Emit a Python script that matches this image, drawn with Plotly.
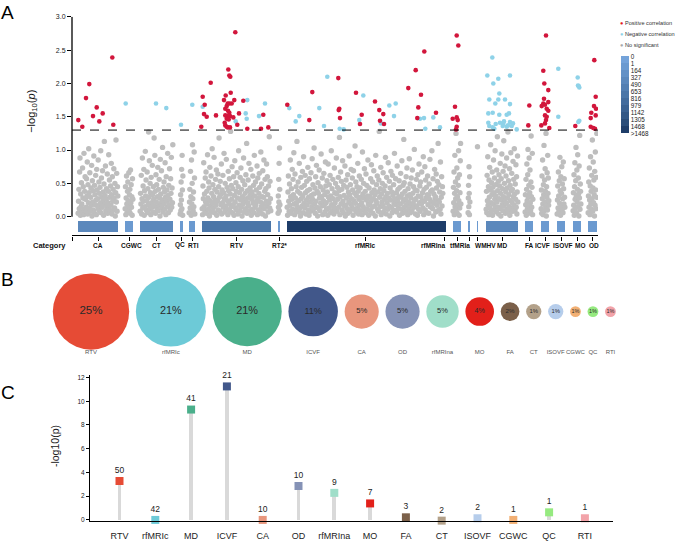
import math
import plotly.graph_objects as go

FONT = "Liberation Sans"
W, H = 685, 542

# ================= Panel A data (Manhattan plot) =================
catA_names = ["CA", "CGWC", "CT", "QC", "RTI", "RTV", "RT2*", "rfMRIc", "rfMRIna",
              "tfMRIa", "", "WMHV", "MD", "FA", "ICVF", "ISOVF", "MO", "OD"]
catA_start = [78, 125, 140, 180, 189, 202, 278, 287, 443, 453, 468, 477, 486, 525, 541, 557, 573, 588]
catA_end = [118, 133, 173, 183, 195, 271, 280, 443, 446, 461, 470, 478, 518, 533, 549, 565, 581, 597]
catA_density_level = [3, 1, 3, 1, 1, 5, 1, 10, 10, 1, 1, 1, 3, 1, 1, 1, 1, 1]
density_labels = ["0", "1", "164", "327", "490", "653", "816", "979", "1142", "1305", "1468", ">1468"]
threshold = 1.3

# non-significant -log10(p) values (hundredths), per category
gray_CA = """05 23 41 12 67 88 02 34 15 51 19 07 73 28 45 03 95 11 38 60
26 09 14 57 31 82 04 48 21 102 36 13 66 08 29 43 17 77 01 54
22 39 10 91 06 47 33 18 62 25 03 71 40 16 27 85 11 52 35 08
44 20 99 06 58 30 14 69 24 37 02 49 113 19 32 76 09 26 42 15
64 05 21 38 93 12 55 29 07 46 17 80 33 04 60 23 41 10 72 28
13 50 01 36 115 22 65 08 45 31"""
gray_CGWC = "12 45 03 28 61 19 07 38 52 24 15 66 09 33 41 05 70 21 48 14 30 02 57 26"
gray_CT = """08 35 19 62 04 27 88 13 46 23 71 02 39 15 98 31 55 10 24 67
06 42 18 127 29 84 11 50 36 03 59 21 14 77 33 07 45 26 118 16
92 38 05 63 22 48 12 30 74 09 41 17 56 28 01 86 34 20 69 13
25 104 07 44 19 52 37 11 81 29 03 60 23 40 15 95 32 06 47 18
72 26 10 57 35 89 14 43 21 108"""
gray_QC = "04 18 33 09 52 25 71 12 92 40 02 61"
gray_RTI = "06 22 41 13 68 30 02 85 19 50 108 27 09 37 15 97 58 04"
gray_RTV = """12 03 46 27 81 15 34 09 58 22 67 05 38 19 93 28 11 52 43 01
74 24 16 61 07 35 102 20 48 13 30 89 06 41 25 56 17 70 02 37
23 64 10 45 118 29 08 53 33 18 79 04 40 21 62 14 36 95 27 07
50 16 31 86 11 44 24 03 68 39 20 57 09 34 128 15 47 26 75 06
42 18 60 02 32 84 22 13 51 38 10 66 28 04 45 99 17 36 08 59
25 73 14 41 01 30 54 19 88 23 07 48 35 12 63 27 110 05 39 21
55 16 80 29 09 43 33 71 02 26 37 11 61 20 47 06 92 31 14 52
18 40 24 76 03 58 28 10 35 65 44 08 22 97 15 49 30 04 69 19
29 85 12 38 56 01 42 23 79 16 60 33 07 46 21 120 13 53 27 09"""
gray_RT2 = "05 31 14 56 22 80 09 103 41 18"
gray_rfMRIc = """14 02 37 61 23 08 49 17 85 30 05 42 26 71 11 56 33 96 19 03
64 28 09 45 21 113 15 38 52 07 24 80 12 35 01 59 27 44 16 68
31 06 90 20 47 13 62 36 04 25 53 18 39 74 10 29 02 57 41 22
08 66 32 15 87 26 48 11 34 103 19 43 05 60 23 77 14 38 01 51
35 12 70 28 09 45 20 94 30 16 58 03 40 24 65 17 33 07 82 46
21 11 54 37 02 79 29 13 48 25 62 06 31 99 18 42 09 56 27 15
04 73 36 21 50 12 88 34 08 44 26 59 14 39 119 03 30 67 19 53
41 10 84 23 06 47 32 16 76 01 17 55 28 44 12 63 05 37 22 91
33 08 48 19 71 27 14 58 40 02 69 24 11 35 106 20 52 07 31 45
13 80 38 04 26 61 17 43 09 29 56 21 03 97 34 15 50 28 72 10
38 06 64 25 47 12 31 85 19 02 43 18 30 09 57 23 78 36 14 52
05 27 69 40 16 33 01 92 24 48 20 61 11 37 08 55 128 29 15 42
74 03 34 22 50 17 66 07 39 26 13 46 89 30 04 59 21 35 11 81
28 16 53 01 43 25 68 14 37 06 62 32 10 48 20 95 27 09 57 18
36 07 76 24 41 13 30 54 02 44 19 65 29 11 84 34 05 47 23 116
51 15 38 26 08 60 18 73 31 03 42 22 12 87 33 49 06 28 58 17
09 70 35 20 45 14 101 25 40 04 27 56 16 39 02 63 31 11 79 21
46 08 52 30 19 67 24 36 13 90 03 41 23 75 10 55 28 44 06 33
61 18 32 05 49 26 86 15 38 22 14 99 40 12 57 01 34 20 71 27
30 07 64 43 17 53 09 110 24 48 22 37 11 82 04 29 60 16 45 35"""
gray_rfMRIna = ""
gray_tfMRIa = "08 44 21 67 03 35 92 15 52 27 125 11 39 73 05 30 58 18 47 99 24 02 63 13 36 84 110 19"
gray_unnamed = "06 28 47 15 75 35 03 60 22"
gray_WMHV = "105"
gray_MD = """11 38 06 62 24 90 17 45 03 55 29 74 13 40 108 21 08 51 33 67
02 44 19 85 36 10 58 26 99 15 48 31 07 70 22 120 39 14 53 04
63 27 46 12 80 35 01 57 25 94 18 42 09 68 30 114 16 50 23 76
05 37 61 20 88 11 43 28 127 07 54 33 15 72 02 47 24 96 39 12
65 21 41 08 83 30 56 17 102 34 09 49 26 78 14 60 04 37 91 22"""
gray_FA = "07 33 18 56 02 41 79 24 12 63 101 29 05 47 88 15 36 70 21 09 52 121 30 14 44 95 03 26"
gray_ICVF = "12 40 05 61 27 85 19 03 48 33 107 09 55 22 72 38 15 125 01 45 29 66 10 92 35 58 17 24"
gray_ISOVF = "04 25 46 13 67 31 08 54 20 89 39 02 60 16 35 75 11 49 27 06 82 42 19 57 29 14"
gray_MO = "09 36 17 63 02 45 81 26 13 54 104 31 06 70 22 41 93 15 58 34 01 76 28 122 11 49 38 19"
gray_OD = "06 31 52 14 73 25 03 46 90 19 38 11 62 27 115 08 43 82 21 55 33 01 68 17 97 40 12 59 29 125"

gray_by_cat = [gray_CA, gray_CGWC, gray_CT, gray_QC, gray_RTI, gray_RTV, gray_RT2, gray_rfMRIc,
               gray_rfMRIna, gray_tfMRIa, gray_unnamed, gray_WMHV, gray_MD, gray_FA, gray_ICVF,
               gray_ISOVF, gray_MO, gray_OD]

# significant associations: position and -log10(p)
pos_x = [78.3, 82.3, 86, 89.3, 93, 96.7, 99.3, 102.7, 112.3, 113.3,
         201.3, 202.7, 204, 204.7, 206.7, 210.7, 216, 224, 225.7, 228.3, 229.3, 230.3, 230.7, 235.3,
         225.3, 226.7, 227.7, 229.3, 231.7, 228, 229.3, 225.3, 227, 230, 226.7, 228.7, 225.3, 226.7,
         227.7, 230, 233.3, 234.3, 237.3, 239, 243.3, 247.3, 261, 263.3, 268.3, 224.7,
         287.3, 309.3, 312.3, 338.3, 339.3, 338.7, 340, 356, 360, 361.7, 375, 379.3, 380, 383.3, 384,
         408.3, 415.7, 417.3, 418.3, 421, 424.3, 436,
         456.7, 458.3, 455, 452.7, 456.7, 457.7, 456.7, 456,
         529.3, 528.3,
         546, 543.3, 544.3, 548.3, 544, 548.3, 543.3, 545, 541.7, 546.7, 548.3, 545, 546.7, 546, 541.3,
         549.3, 545,
         575.3,
         594.3, 595.7, 594, 596, 591.3, 595.7, 590.7, 590.7, 593.3, 595]
pos_y = [1.45, 1.35, 1.78, 1.99, 1.51, 1.64, 1.43, 1.55, 2.39, 1.38,
         1.35, 1.80, 1.54, 1.68, 1.50, 2.01, 1.52, 1.75, 1.82, 2.21, 2.12, 2.10, 1.86, 2.77,
         1.62, 1.66, 1.70, 1.70, 1.70, 1.59, 1.56, 1.52, 1.51, 1.51, 1.47, 1.46, 1.37, 1.35,
         1.34, 1.34, 1.49, 1.75, 1.38, 1.55, 1.74, 1.32, 1.32, 1.53, 1.34, 1.41,
         1.68, 1.45, 1.87, 2.08, 1.62, 1.60, 1.48, 1.86, 1.39, 1.53, 1.73, 1.60, 1.44, 1.54, 1.39,
         1.93, 2.20, 1.48, 1.64, 1.83, 2.48, 1.56,
         2.72, 2.57, 1.65, 1.47, 1.49, 1.45, 1.35, 1.31,
         1.67, 1.37,
         2.72, 2.19, 2.00, 1.90, 1.77, 1.72, 1.70, 1.68, 1.66, 1.62, 1.59, 1.52, 1.50, 1.45, 1.37,
         1.33, 1.40,
         1.36,
         2.35, 1.80, 1.66, 1.62, 1.56, 1.52, 1.48, 1.35, 1.33, 1.32]
neg_x = [125.7, 156, 166.3, 181, 192.3,
         202.7, 235.7, 245.7, 246.7, 247.3, 259, 265,
         289.3, 295.7, 299.3, 319.3, 324, 327.3, 339.7, 343.7, 359.3, 363.3, 381, 389.3, 394, 395.7,
         420, 424, 425.3, 433.3, 440,
         492.3, 487.3, 493.3, 498.3, 510, 489.3, 499.3, 498.3, 505, 510, 495.3, 492.7, 499.3, 488.3,
         506.7, 509, 488.3, 495.7, 503.3, 510, 502.7, 506.7, 511.7, 516.7, 492.7, 494.3, 489.3, 504,
         500, 513, 508,
         558.3, 558.3,
         577.7, 578.7, 579.3, 578, 579.3, 578.3]
neg_y = [1.70, 1.70, 1.63, 1.38, 1.68,
         1.65, 1.43, 1.55, 1.47, 1.75, 1.51, 1.70,
         1.63, 1.43, 1.51, 1.63, 1.36, 2.10, 1.32, 1.31, 1.45, 1.82, 1.40, 1.67, 1.51, 1.70,
         1.47, 1.48, 1.32, 1.49, 1.34,
         2.39, 2.12, 2.00, 2.07, 2.12, 1.76, 1.85, 1.76, 1.76, 1.69, 1.70, 1.56, 1.53, 1.55,
         1.53, 1.55, 1.41, 1.39, 1.39, 1.42, 1.36, 1.35, 1.36, 1.31, 1.34, 1.32, 1.36, 1.43,
         1.41, 1.40, 1.37,
         2.22, 1.50,
         2.09, 1.96, 1.94, 1.97, 1.44, 1.42]

# ================= Panels B & C data =================
catBC_names = ["RTV", "rfMRIc", "MD", "ICVF", "CA", "OD", "rfMRIna", "MO", "FA", "CT",
               "ISOVF", "CGWC", "QC", "RTI"]
catBC_counts = [50, 42, 41, 21, 10, 10, 9, 7, 3, 2, 2, 1, 1, 1]
catC_logp = [3.28, 0.0, 9.3, 11.25, 0.0, 2.86, 2.28, 1.39, 0.22, -0.06, 0.14, 0.0, 0.64, 0.14]
catBC_colors = ["#E64B35", "#6DCAD7", "#4AAF8B", "#41578A", "#E8967D", "#8592B6", "#A0DEC9",
                "#E2201A", "#7B604A", "#B3A18A", "#B6CDEB", "#F2B074", "#96EA80", "#F2A3A9"]

# ================= Styles =================
GRAY = "#BEBEBE"
RED = "#D2163C"
BLUE = "#8ED2E8"
strip_colors_dark_to_light = ["#1E3D69", "#2A4D79", "#335886", "#3B6292", "#436C9D", "#4B76A8",
                              "#537FB2", "#5B88BC", "#6391C6", "#6B9AD0", "#74A3DA"]

def px_x(p):
    return p / W

def px_y(p):
    return 1 - p / H

def ann(x, y, text, size, color="#111", xref="paper", xanchor="center", **kw):
    d = dict(x=x, y=y, xref=xref, yref="paper", text=text, showarrow=False,
             xanchor=xanchor, yanchor="middle", font=dict(family=FONT, size=size, color=color))
    d.update(kw)
    return d

fig = go.Figure()

# ---------- Panel A ----------
gx, gy = [], []
for s, e, txt in zip(catA_start, catA_end, gray_by_cat):
    vals = [int(t) / 100 for t in txt.split()]
    n = len(vals)
    for i, v in enumerate(vals):
        gx.append(s + (i + 0.5) * (e - s) / n)
        gy.append(v)

fig.add_trace(go.Scatter(x=gx, y=gy, mode="markers", xaxis="x", yaxis="y",
                         marker=dict(color=GRAY, size=5.4, line=dict(width=0)),
                         showlegend=False, hoverinfo="skip"))
fig.add_trace(go.Scatter(x=neg_x, y=neg_y, mode="markers", xaxis="x", yaxis="y",
                         marker=dict(color=BLUE, size=4.6, line=dict(width=0)), showlegend=False))
fig.add_trace(go.Scatter(x=pos_x, y=pos_y, mode="markers", xaxis="x", yaxis="y",
                         marker=dict(color=RED, size=4.6, line=dict(width=0)), showlegend=False))

n_bins = len(strip_colors_dark_to_light)
cscale = []
for k, c in enumerate(strip_colors_dark_to_light):
    cscale.append([k / n_bins, c])
    cscale.append([(k + 1) / n_bins, c])

centersA = [(s + e) / 2 for s, e in zip(catA_start, catA_end)]
spansA = [e - s for s, e in zip(catA_start, catA_end)]
strip_vals = [n_bins - lvl - 0.5 for lvl in catA_density_level]
fig.add_trace(go.Bar(x=centersA, y=[0.165] * len(centersA), base=-0.225, width=spansA,
                     xaxis="x", yaxis="y",
                     marker=dict(color=strip_vals, colorscale=cscale, cmin=0, cmax=n_bins,
                                 line=dict(width=0),
                                 colorbar=dict(x=px_x(621), xanchor="left", y=px_y(53), yanchor="top",
                                               len=(131 - 53) / H, lenmode="fraction", thickness=8,
                                               thicknessmode="pixels", outlinewidth=0, xpad=0, ypad=0,
                                               tickvals=list(range(n_bins, -1, -1)),
                                               ticktext=density_labels, ticks="",
                                               tickfont=dict(size=6.3, family=FONT, color="#222"),
                                               ticklabelposition="outside")),
                     showlegend=False, hoverinfo="skip"))

# ---------- Panel B (bubbles, area ~ count) ----------
dB = [10.8 * math.sqrt(c) for c in catBC_counts]
cxB = []
for i, d in enumerate(dB):
    if i == 0:
        cxB.append(91.0)
    else:
        cxB.append(cxB[-1] + dB[i - 1] / 2 + 6.7 + d / 2)
total = sum(catBC_counts)
pct_text = [f"{int(c / total * 100 + 0.5)}%" for c in catBC_counts]

fig.add_trace(go.Scatter(x=cxB, y=[0] * len(cxB), mode="markers+text", text=pct_text,
                         textposition="middle center", xaxis="x2", yaxis="y2", cliponaxis=False,
                         marker=dict(size=dB, color=catBC_colors, line=dict(width=0), opacity=1),
                         textfont=dict(family=FONT, color="#2a2a2a",
                                       size=[4.5 + 1.0 * math.sqrt(c) for c in catBC_counts]),
                         showlegend=False, hoverinfo="skip"))
fig.add_trace(go.Scatter(x=cxB, y=[-41] * len(cxB), mode="text", text=catBC_names, xaxis="x2", yaxis="y2",
                         textfont=dict(family=FONT, color="#555", size=6),
                         showlegend=False, hoverinfo="skip"))

# ---------- Panel C ----------
idxC = list(range(len(catBC_names)))
fig.add_trace(go.Bar(x=idxC, y=catC_logp, width=0.11, xaxis="x3", yaxis="y3",
                     marker=dict(color="#D9D9D9", line=dict(width=0)), showlegend=False, hoverinfo="skip"))
fig.add_trace(go.Scatter(x=idxC, y=catC_logp, mode="markers+text", xaxis="x3", yaxis="y3",
                         text=[str(c) for c in catBC_counts], textposition="top center",
                         textfont=dict(family=FONT, size=8.5, color="#222"),
                         marker=dict(symbol="square", size=8, color=catBC_colors, line=dict(width=0)),
                         cliponaxis=False, showlegend=False))

# ---------- axes lines / threshold ----------
yticksA = [0, 0.5, 1.0, 1.5, 2.0, 2.5, 3.0]
shapes = []
shapes.append(dict(type="line", xref="x domain", x0=0, x1=1, yref="y", y0=threshold, y1=threshold,
                   line=dict(color="black", width=1, dash="dash")))
shapes.append(dict(type="line", xref="paper", x0=px_x(72), x1=px_x(72), yref="y",
                   y0=yticksA[0], y1=yticksA[-1], line=dict(color="black", width=1.3)))

annotations = []
label_shift = {"CGWC": 2, "QC": -2, "RTI": 1.5, "rfMRIna": -11, "tfMRIa": 3, "WMHV": 8,
               "ICVF": -3, "ISOVF": 2, "MO": 3, "OD": 1}
for name, cx in zip(catA_names, centersA):
    if not name:
        continue
    annotations.append(ann(cx, px_y(244), f"<b>{name}</b>", 6.5, xref="x",
                           xshift=label_shift.get(name, 0)))
annotations.append(ann(px_x(50), px_y(244), "<b>Category</b>", 7.5))
annotations.append(ann(px_x(32), px_y(108), "\u2212log<sub>10</sub>(<i>p</i>)", 11, textangle=-90))
legend_items = [("Positive correlation", "#E41A1C"), ("Negative correlation", BLUE),
                ("No significant", "#A8A8A8")]
for k, (lab, col) in enumerate(legend_items):
    annotations.append(ann(px_x(618), px_y(19 + k * 11.3),
                           f"<span style='color:{col}'>\u25CF</span> {lab}", 5.6,
                           color="#333", xanchor="left"))
annotations.append(ann(px_x(55), px_y(447), "-log10(p)", 10.5, color="#222", textangle=-90))
for letter, (lx, ly) in zip(["A", "B", "C"], [(8, 9), (8, 279), (8, 393)]):
    annotations.append(ann(px_x(lx), px_y(ly), letter, 19, color="black"))

C_X0, C_STEP = 119.5, 35.8
C_YMIN = -0.1
fig.update_layout(
    width=W, height=H, margin=dict(l=0, r=0, t=0, b=0),
    paper_bgcolor="white", plot_bgcolor="white", showlegend=False, bargap=0,
    font=dict(family=FONT),
    shapes=shapes, annotations=annotations,
    xaxis=dict(domain=[px_x(72), px_x(598)], range=[72, 598], anchor="y",
               showline=True, linecolor="black", linewidth=1.4, ticks="outside", ticklen=4,
               tickcolor="black", tickwidth=1.2, tickvals=[72] + centersA, showticklabels=False,
               showgrid=False, zeroline=False),
    yaxis=dict(domain=[px_y(234), px_y(13)], range=[-0.282, 3.0], anchor="x",
               tickvals=yticksA, ticktext=[f"{v:.1f}" for v in yticksA], ticks="outside", ticklen=4,
               tickcolor="black", tickwidth=1.2,
               tickfont=dict(family=FONT, size=7, color="#222"), showgrid=False, zeroline=False,
               showline=False),
    xaxis2=dict(domain=[0, 1], range=[0, W], anchor="y2", visible=False),
    yaxis2=dict(domain=[px_y(365), px_y(270)], range=[-54, 41], anchor="x2", visible=False),
    xaxis3=dict(domain=[px_x(90), px_x(613)],
                range=[(90 - C_X0) / C_STEP, (613 - C_X0) / C_STEP], anchor="y3",
                tickvals=idxC, ticktext=catBC_names, ticks="", ticklabelstandoff=6, tickangle=0,
                tickfont=dict(family=FONT, size=9, color="#222"),
                showline=True, linecolor="black", linewidth=1, showgrid=False, zeroline=False),
    yaxis3=dict(domain=[px_y(521.7 - C_YMIN * 12), px_y(375.3)], range=[C_YMIN, 12.2], anchor="x3",
                tickvals=[0, 2, 4, 6, 8, 10, 12], ticks="outside", ticklen=3, tickcolor="black",
                tickfont=dict(family=FONT, size=6.5, color="#222"),
                showline=True, linecolor="black", linewidth=1, showgrid=False, zeroline=False),
)

fig.write_html("out.html", config={"displayModeBar": False},
               post_script="document.body.style.margin='0px';document.body.style.overflow='hidden';")
